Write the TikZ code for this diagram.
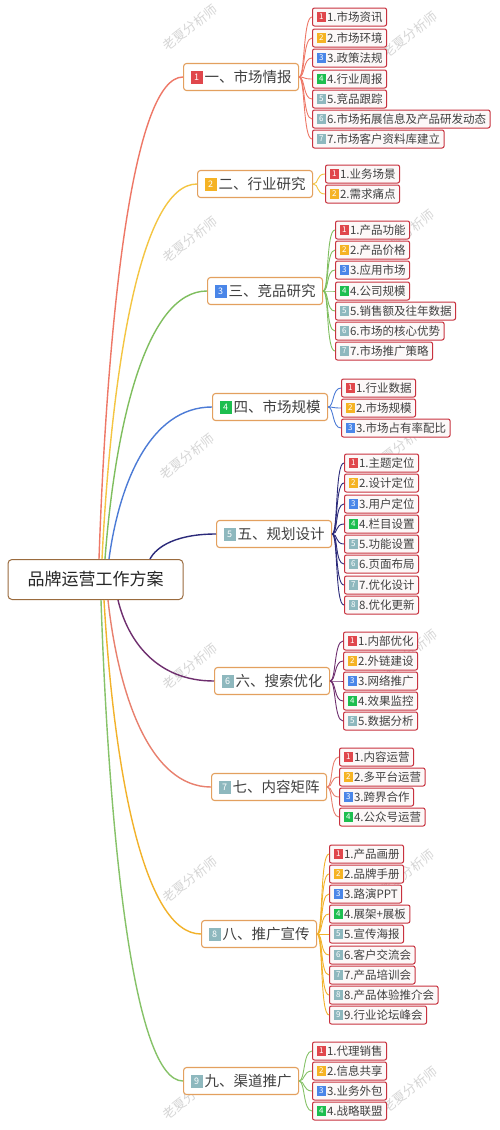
\documentclass[tikz,border=0pt]{standalone}
\usepackage{fontspec}
\setmainfont{Noto Sans CJK SC}
\usetikzlibrary{calc}
\definecolor{b1}{HTML}{E0474C}
\definecolor{b2}{HTML}{F5B324}
\definecolor{b3}{HTML}{4A86E8}
\definecolor{b4}{HTML}{1DBE4F}
\definecolor{b5}{HTML}{8EB8BE}
\colorlet{b6}{b5}\colorlet{b7}{b5}\colorlet{b8}{b5}\colorlet{b9}{b5}
\definecolor{mainC}{HTML}{9A6B3E}
\definecolor{topicC}{HTML}{E3A05F}
\definecolor{leafC}{HTML}{C8323F}
\definecolor{leafF}{HTML}{FCF8F8}
\definecolor{txt}{HTML}{404040}
\definecolor{l1}{HTML}{EE7766}
\definecolor{l2}{HTML}{F4C542}
\definecolor{l3}{HTML}{7FBE5E}
\definecolor{l4}{HTML}{4C7BD6}
\definecolor{l5}{HTML}{2B2A7A}
\definecolor{l6}{HTML}{6E2E6E}
\definecolor{l7}{HTML}{E8806E}
\definecolor{l8}{HTML}{F2B22A}
\definecolor{l9}{HTML}{86C268}
\newcommand{\bdgs}[2]{{\setlength{\fboxsep}{0pt}\raisebox{-0.8pt}{\colorbox{#1}{\parbox[b][10.5pt][c]{9.5pt}{\centering\color{white}\fontsize{8}{8}\selectfont #2}}}}\hspace{1pt}}
\newcommand{\bdgL}[2]{{\setlength{\fboxsep}{0pt}\raisebox{-1.2pt}{\colorbox{#1}{\parbox[b][12.5pt][c]{12pt}{\centering\color{white}\fontsize{9}{9}\selectfont #2}}}}\hspace{2pt}}
\newcommand{\grp}[4]{%
  \foreach \yy/\lbl [count=\i] in {#4} {
    \node[leaf] (#1-\i) at (#3,\yy) {\bdgs{b\i}{\i}\i.\lbl};
    \draw[branch,#2] (#1.east) .. controls +(6,0) and +(-9,0) .. (#1-\i.west);
  }}
\newcommand{\mconn}[3]{\draw[trunk,#1] let \p1=(#2), \p2=(#3.west) in (\p1) .. controls ({\x1+0.1*(\x2-\x1)},{\y1+0.5*(\y2-\y1)}) and ({\x1+0.4*(\x2-\x1)},{\y2}) .. (\p2);}
\begin{document}
\begin{tikzpicture}[x=1pt,y=-1pt,
  mainbox/.style={draw=mainC, line width=1pt, rounded corners=4pt, fill=white, minimum width=175pt, minimum height=40pt, font=\fontsize{17}{17}\selectfont, text=black!85},
  topic/.style={draw=topicC, line width=1.1pt, rounded corners=3pt, fill=white, minimum height=27pt, inner xsep=7pt, inner ysep=0pt, anchor=west, font=\fontsize{14.5}{15}\selectfont, text=txt},
  leaf/.style={draw=leafC, line width=1pt, rounded corners=2pt, fill=leafF, minimum height=18pt, inner xsep=4pt, inner ysep=0pt, anchor=west, font=\fontsize{11.5}{12}\selectfont, text=txt},
  wm/.style={rotate=38, text=black!16, font=\fontsize{13}{13}\selectfont},
  trunk/.style={line width=1.4pt},
  branch/.style={line width=0.9pt}]
\useasboundingbox (0,0) rectangle (500,1130);
\fill[white] (0,0) rectangle (500,1130);
% watermarks
\foreach \wx/\wy [count=\k] in {190/28,410/35,190/240,407/233,187/457,400/447,190/667,410/653,190/880,407/873,190/1097,410/1090}
  \node[wm] (wm\k) at (\wx,\wy) {老夏分析师};
% main
\node[mainbox] (root) at (95.5,579.5) {品牌运营工作方案};
% topics
\node[topic] (t1) at (183,77) {\bdgL{b1}{1}一、市场情报};
\node[topic] (t2) at (197,184) {\bdgL{b2}{2}二、行业研究};
\node[topic] (t3) at (207,291) {\bdgL{b3}{3}三、竞品研究};
\node[topic] (t4) at (212,407) {\bdgL{b4}{4}四、市场规模};
\node[topic] (t5) at (216,534) {\bdgL{b5}{5}五、规划设计};
\node[topic] (t6) at (214,681) {\bdgL{b6}{6}六、搜索优化};
\node[topic] (t7) at (211,787) {\bdgL{b7}{7}七、内容矩阵};
\node[topic] (t8) at (201,934) {\bdgL{b8}{8}八、推广宣传};
\node[topic] (t9) at (183,1081) {\bdgL{b9}{9}九、渠道推广};
% trunk start points
\coordinate (s1) at (99,559);
\coordinate (s2) at (102,559);
\coordinate (s3) at (105,559);
\coordinate (s4) at (109,559);
\coordinate (s5) at (150,559);
\coordinate (s6) at (118,600);
\coordinate (s7) at (108,600);
\coordinate (s8) at (104,600);
\coordinate (s9) at (101,600);
\mconn{l1}{s1}{t1}
\mconn{l2}{s2}{t2}
\mconn{l3}{s3}{t3}
\mconn{l4}{s4}{t4}
\mconn{l5}{s5}{t5}
\mconn{l6}{s6}{t6}
\mconn{l7}{s7}{t7}
\mconn{l8}{s8}{t8}
\mconn{l9}{s9}{t9}
% leaves
\grp{t1}{l1}{312}{17/市场资讯,38/市场环境,58/政策法规,79/行业周报,99/竞品跟踪,119/市场拓展信息及产品研发动态,139/市场客户资料库建立}
\grp{t2}{l2}{325}{174/业务场景,194/需求痛点}
\grp{t3}{l3}{335}{230/产品功能,250/产品价格,270/应用市场,291/公司规模,311/销售额及往年数据,331/市场的核心优势,351/市场推广策略}
\grp{t4}{l4}{341}{388/行业数据,408/市场规模,428/市场占有率配比}
\grp{t5}{l5}{344}{463/主题定位,483/设计定位,504/用户定位,524/栏目设置,544/功能设置,564/页面布局,585/优化设计,605/优化更新}
\grp{t6}{l6}{343}{641/内部优化,661/外链建设,681/网络推广,701/效果监控,721/数据分析}
\grp{t7}{l7}{339}{757/内容运营,777/多平台运营,797/跨界合作,817/公众号运营}
\grp{t8}{l8}{329}{854/产品画册,874/品牌手册,894/路演PPT,914/展架+展板,934/宣传海报,955/客户交流会,975/产品培训会,995/产品体验推介会,1015/行业论坛峰会}
\grp{t9}{l9}{312}{1051/代理销售,1071/信息共享,1091/业务外包,1111/战略联盟}
\end{tikzpicture}
\end{document}
